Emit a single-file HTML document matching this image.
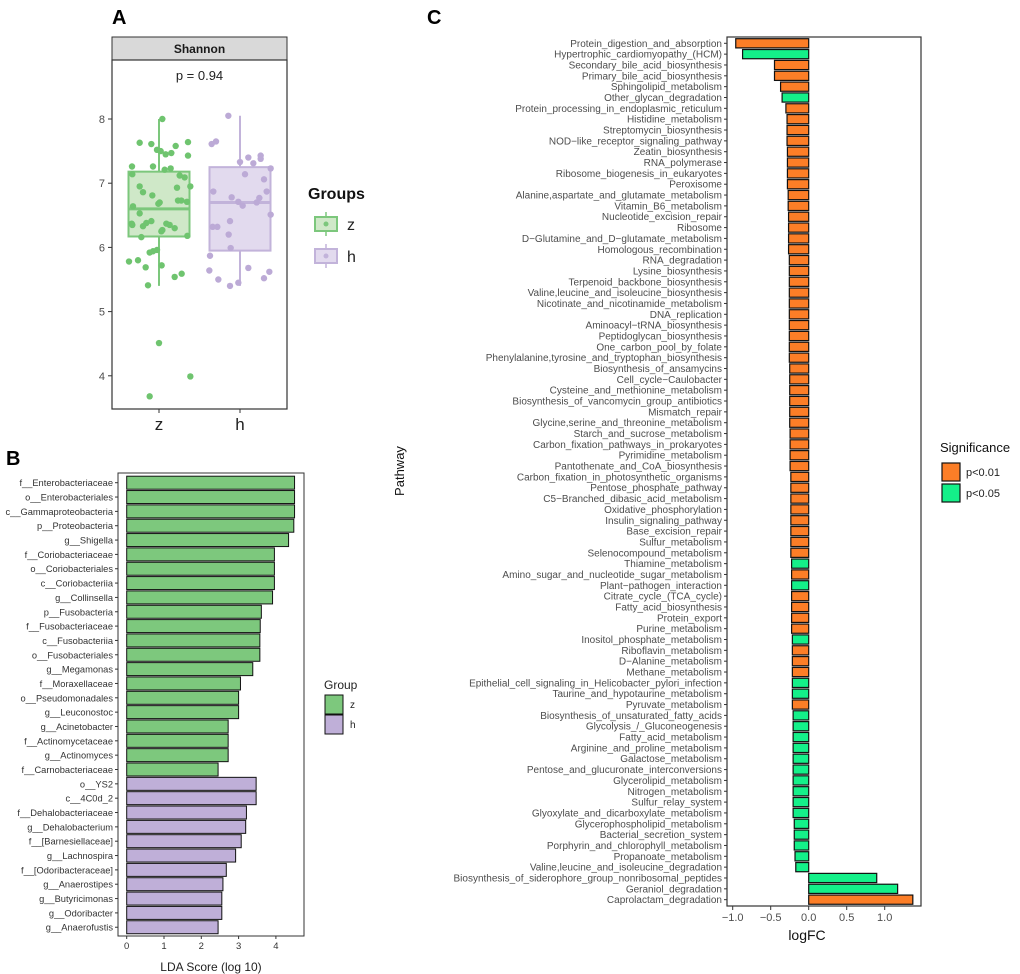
<!DOCTYPE html>
<html><head><meta charset="utf-8"><style>
html,body{margin:0;padding:0;background:#fff;}
svg{display:block;font-family:"Liberation Sans",Arial,sans-serif;}
</style></head><body>
<svg id="fig" width="1020" height="974" viewBox="0 0 1020 974" xmlns="http://www.w3.org/2000/svg">
<text x="112" y="24" font-size="20" font-weight="bold">A</text>
<text x="6" y="465" font-size="20" font-weight="bold">B</text>
<text x="427" y="24" font-size="20" font-weight="bold">C</text>
</svg>
<script>
// ---------- Panel A data ----------
const aGroups = ["z","h"];
const zValues = [8.0,7.63,7.61,7.64,7.52,7.50,7.45,7.47,7.58,7.43,7.26,7.26,7.21,7.23,7.12,7.14,7.09,6.95,6.86,6.95,6.81,6.93,6.70,6.73,6.64,6.68,6.73,6.71,6.53,6.37,6.38,6.41,6.37,6.35,6.33,6.25,6.30,6.35,6.16,6.18,6.27,5.94,5.92,5.96,5.78,5.80,5.69,5.72,5.54,5.59,5.41,4.51,3.99,3.68];
const zJitter = [10,-58,-23,87,-6,5,20,37,50,87,-81,-18,17,35,62,-80,77,-58,-48,94,-20,54,2,67,-78,-2,57,84,-58,-82,-38,-23,22,-80,-48,7,47,32,-53,85,10,-18,-28,-6,-90,-63,-40,8,47,68,-33,0,94,-28];
const hValues = [8.05,7.61,7.65,7.33,7.40,7.31,7.43,7.38,7.23,7.14,6.87,6.78,6.71,6.65,6.70,7.06,6.77,6.87,6.51,6.32,6.32,6.41,6.20,5.99,5.87,5.64,5.50,5.40,5.45,5.68,5.52,5.62];
const hJitter = [-35,-85,-72,0,25,40,62,62,92,15,-80,-25,-5,8,50,72,58,80,92,-82,-68,-30,-34,-28,-90,-92,-65,-30,-5,25,72,88];
const zBox = [5.40,6.17,6.60,7.18,8.00];
const hBox = [5.40,5.95,6.70,7.25,8.05];
const aTicks = [4,5,6,7,8];
// ---------- Panel B data ----------
const bTaxa = ["f__Enterobacteriaceae","o__Enterobacteriales","c__Gammaproteobacteria","p__Proteobacteria","g__Shigella","f__Coriobacteriaceae","o__Coriobacteriales","c__Coriobacteriia","g__Collinsella","p__Fusobacteria","f__Fusobacteriaceae","c__Fusobacteriia","o__Fusobacteriales","g__Megamonas","f__Moraxellaceae","o__Pseudomonadales","g__Leuconostoc","g__Acinetobacter","f__Actinomycetaceae","g__Actinomyces","f__Carnobacteriaceae","o__YS2","c__4C0d_2","f__Dehalobacteriaceae","g__Dehalobacterium","f__[Barnesiellaceae]","g__Lachnospira","f__[Odoribacteraceae]","g__Anaerostipes","g__Butyricimonas","g__Odoribacter","g__Anaerofustis"];
const bLDA = [4.50,4.50,4.50,4.48,4.34,3.96,3.96,3.96,3.91,3.61,3.58,3.57,3.57,3.38,3.05,3.00,3.00,2.72,2.72,2.72,2.45,3.47,3.47,3.21,3.19,3.07,2.92,2.67,2.58,2.55,2.55,2.45];
const bGroup = ["z","z","z","z","z","z","z","z","z","z","z","z","z","z","z","z","z","z","z","z","z","h","h","h","h","h","h","h","h","h","h","h"];
const bTicks = [0,1,2,3,4];
// ---------- Panel C data ----------
const cPath = ["Protein_digestion_and_absorption","Hypertrophic_cardiomyopathy_(HCM)","Secondary_bile_acid_biosynthesis","Primary_bile_acid_biosynthesis","Sphingolipid_metabolism","Other_glycan_degradation","Protein_processing_in_endoplasmic_reticulum","Histidine_metabolism","Streptomycin_biosynthesis","NOD−like_receptor_signaling_pathway","Zeatin_biosynthesis","RNA_polymerase","Ribosome_biogenesis_in_eukaryotes","Peroxisome","Alanine,aspartate_and_glutamate_metabolism","Vitamin_B6_metabolism","Nucleotide_excision_repair","Ribosome","D−Glutamine_and_D−glutamate_metabolism","Homologous_recombination","RNA_degradation","Lysine_biosynthesis","Terpenoid_backbone_biosynthesis","Valine,leucine_and_isoleucine_biosynthesis","Nicotinate_and_nicotinamide_metabolism","DNA_replication","Aminoacyl−tRNA_biosynthesis","Peptidoglycan_biosynthesis","One_carbon_pool_by_folate","Phenylalanine,tyrosine_and_tryptophan_biosynthesis","Biosynthesis_of_ansamycins","Cell_cycle−Caulobacter","Cysteine_and_methionine_metabolism","Biosynthesis_of_vancomycin_group_antibiotics","Mismatch_repair","Glycine,serine_and_threonine_metabolism","Starch_and_sucrose_metabolism","Carbon_fixation_pathways_in_prokaryotes","Pyrimidine_metabolism","Pantothenate_and_CoA_biosynthesis","Carbon_fixation_in_photosynthetic_organisms","Pentose_phosphate_pathway","C5−Branched_dibasic_acid_metabolism","Oxidative_phosphorylation","Insulin_signaling_pathway","Base_excision_repair","Sulfur_metabolism","Selenocompound_metabolism","Thiamine_metabolism","Amino_sugar_and_nucleotide_sugar_metabolism","Plant−pathogen_interaction","Citrate_cycle_(TCA_cycle)","Fatty_acid_biosynthesis","Protein_export","Purine_metabolism","Inositol_phosphate_metabolism","Riboflavin_metabolism","D−Alanine_metabolism","Methane_metabolism","Epithelial_cell_signaling_in_Helicobacter_pylori_infection","Taurine_and_hypotaurine_metabolism","Pyruvate_metabolism","Biosynthesis_of_unsaturated_fatty_acids","Glycolysis_/_Gluconeogenesis","Fatty_acid_metabolism","Arginine_and_proline_metabolism","Galactose_metabolism","Pentose_and_glucuronate_interconversions","Glycerolipid_metabolism","Nitrogen_metabolism","Sulfur_relay_system","Glyoxylate_and_dicarboxylate_metabolism","Glycerophospholipid_metabolism","Bacterial_secretion_system","Porphyrin_and_chlorophyll_metabolism","Propanoate_metabolism","Valine,leucine_and_isoleucine_degradation","Biosynthesis_of_siderophore_group_nonribosomal_peptides","Geraniol_degradation","Caprolactam_degradation"];
const cLogFC = [-0.96,-0.87,-0.45,-0.45,-0.37,-0.35,-0.30,-0.285,-0.285,-0.285,-0.28,-0.28,-0.28,-0.28,-0.27,-0.27,-0.265,-0.265,-0.265,-0.265,-0.255,-0.255,-0.255,-0.255,-0.255,-0.255,-0.255,-0.255,-0.255,-0.255,-0.25,-0.25,-0.25,-0.25,-0.25,-0.25,-0.245,-0.245,-0.245,-0.245,-0.235,-0.235,-0.235,-0.235,-0.235,-0.235,-0.235,-0.235,-0.225,-0.225,-0.225,-0.225,-0.225,-0.225,-0.225,-0.215,-0.215,-0.215,-0.215,-0.215,-0.215,-0.215,-0.205,-0.205,-0.205,-0.205,-0.205,-0.205,-0.205,-0.205,-0.205,-0.205,-0.19,-0.19,-0.19,-0.18,-0.17,0.895,1.17,1.37];
const cSig = ["a","b","a","a","a","b","a","a","a","a","a","a","a","a","a","a","a","a","a","a","a","a","a","a","a","a","a","a","a","a","a","a","a","a","a","a","a","a","a","a","a","a","a","a","a","a","a","a","b","a","b","a","a","a","a","b","a","a","a","b","b","a","b","b","b","b","b","b","b","b","b","b","b","b","b","b","b","b","b","a"];
const cTicks = [-1.0,-0.5,0.0,0.5,1.0];

const NS="http://www.w3.org/2000/svg";
const svg=document.getElementById('fig');
function mk(tag,attrs,parent){const e=document.createElementNS(NS,tag);for(const k in attrs)e.setAttribute(k,attrs[k]);(parent||svg).appendChild(e);return e;}
function txt(str,attrs,parent){const e=mk('text',attrs,parent);e.textContent=str;return e;}

// ===== Panel A =====
const aL=112,aR=287,aT=60,aB=409;
function ay(v){return 119+(8-v)*64.2;}
const aX={z:159,h:240};
let e;
e=mk('rect',{x:aL,y:37,width:aR-aL,height:23,fill:'#d9d9d9',stroke:'#333','stroke-width':1});


e=txt('Shannon',{x:(aL+aR)/2,y:53,'font-size':12,'font-weight':'bold','text-anchor':'middle',fill:'#1a1a1a'});


e=mk('rect',{x:aL,y:aT,width:aR-aL,height:aB-aT,fill:'#fff',stroke:'#333','stroke-width':1.2});


e=txt('p = 0.94',{x:(aL+aR)/2,y:80,'font-size':13,'text-anchor':'middle',fill:'#222'});


aTicks.forEach(t=>{
  e=mk('line',{x1:aL-4,x2:aL,y1:ay(t),y2:ay(t),stroke:'#333'});
  
  
  e=txt(String(t),{x:aL-7,y:ay(t)+4,'font-size':11,'text-anchor':'end',fill:'#4d4d4d'});
  
  
});
aGroups.forEach(g=>{
  e=mk('line',{x1:aX[g],x2:aX[g],y1:aB,y2:aB+4,stroke:'#333'});
  
  
  e=txt(g,{x:aX[g],y:aB+21,'font-size':17,'text-anchor':'middle',fill:'#222'});
  
  
});
function drawBox(box,cx,stroke,fill,name){
  const w=61;
  e=mk('line',{x1:cx,x2:cx,y1:ay(box[0]),y2:ay(box[4]),stroke:stroke,'stroke-width':2});
  
  
  e=mk('rect',{x:cx-w/2,y:ay(box[3]),width:w,height:ay(box[1])-ay(box[3]),fill:fill,stroke:stroke,'stroke-width':2});
  
  
  e=mk('line',{x1:cx-w/2,x2:cx+w/2,y1:ay(box[2]),y2:ay(box[2]),stroke:stroke,'stroke-width':3});
  
  
}
drawBox(zBox,aX.z,'#7cc77c','#cfe8c8','z');
drawBox(hBox,aX.h,'#c2b3da','#e2daee','h');
zValues.forEach((v,i)=>{
  e=mk('circle',{cx:aX.z+zJitter[i]/3,cy:ay(v),r:3.2,fill:'#6fc46f'});
  
  
});
hValues.forEach((v,i)=>{
  e=mk('circle',{cx:aX.h+hJitter[i]/3,cy:ay(v),r:3.2,fill:'#bcaad6'});
  
  
});
// legend A
e=txt('Groups',{x:308,y:199,'font-size':16,'font-weight':'bold',fill:'#111'});


[['z','#7cc77c','#cfe8c8',224],['h','#c2b3da','#e2daee',256]].forEach(([g,s,f,y])=>{
  e=mk('line',{x1:326,x2:326,y1:y-12,y2:y+12,stroke:s,'stroke-width':1.5});
  
  
  e=mk('rect',{x:315,y:y-7,width:22,height:14,fill:f,stroke:s,'stroke-width':2});
  
  
  e=mk('circle',{cx:326,cy:y,r:2.5,fill:s});
  
  
  e=txt(g,{x:347,y:y+6,'font-size':16,fill:'#222'});
  
  
});

// ===== Panel B =====
const bL=118,bR=304,bT=473,bBot=936;
function bx(v){return 126.7+v*37.3;}
function by(i){return 482.7+i*14.34;}
e=mk('rect',{x:bL,y:bT,width:bR-bL,height:bBot-bT,fill:'#fff',stroke:'#333','stroke-width':1});


bTaxa.forEach((t,i)=>{
  e=mk('rect',{x:bx(0),y:by(i)-6.5,width:bx(bLDA[i])-bx(0),height:13,fill:bGroup[i]==='z'?'#7dc87d':'#bfafd8',stroke:'#111','stroke-width':1});
  
  
  e=mk('line',{x1:bL-3,x2:bL,y1:by(i),y2:by(i),stroke:'#333'});
  
  
  e=txt(t,{x:bL-5,y:by(i)+3.5,'font-size':9.3,'text-anchor':'end',fill:'#333'});
  
  
});
bTicks.forEach(t=>{
  e=mk('line',{x1:bx(t),x2:bx(t),y1:bBot,y2:bBot+3,stroke:'#333'});
  
  
  e=txt(String(t),{x:bx(t),y:bBot+13,'font-size':9.5,'text-anchor':'middle',fill:'#333'});
  
  
});
e=txt('LDA Score (log 10)',{x:(bL+bR)/2,y:971,'font-size':12,'text-anchor':'middle',fill:'#222'});


e=txt('Group',{x:324,y:689,'font-size':12,fill:'#222'});


[['z','#7dc87d',695],['h','#bfafd8',715]].forEach(([g,c,y])=>{
  e=mk('rect',{x:325,y:y,width:18,height:19,fill:c,stroke:'#111','stroke-width':1});
  
  
  e=txt(g,{x:350,y:y+13,'font-size':10,fill:'#222'});
  
  
});

// ===== Panel C =====
const cL=727,cR=921,cT=37,cBot=906;
function cx(v){return 808.7+v*76;}
function cy(i){return 43.3+i*10.84;}
e=mk('rect',{x:cL,y:cT,width:cR-cL,height:cBot-cT,fill:'#fff',stroke:'#333','stroke-width':1.2});


cPath.forEach((p,i)=>{
  const v=cLogFC[i],x0=Math.min(cx(0),cx(v));
  e=mk('rect',{x:x0,y:cy(i)-4.6,width:Math.abs(cx(v)-cx(0)),height:9.2,fill:cSig[i]==='a'?'#fc7e27':'#14f089',stroke:'#111','stroke-width':1.2});
  
  
  e=mk('line',{x1:cL-3,x2:cL,y1:cy(i),y2:cy(i),stroke:'#333'});
  
  
  e=txt(p,{x:cL-5,y:cy(i)+3.5,'font-size':10,'text-anchor':'end',fill:'#4d4d4d'});
  
  
});
cTicks.forEach(t=>{
  e=mk('line',{x1:cx(t),x2:cx(t),y1:cBot,y2:cBot+4,stroke:'#333'});
  
  
  e=txt(t.toFixed(1).replace('-','−'),{x:cx(t),y:cBot+15,'font-size':11,'text-anchor':'middle',fill:'#4d4d4d'});
  
  
});
e=txt('logFC',{x:807,y:940,'font-size':14,'text-anchor':'middle',fill:'#111'});


e=txt('Pathway',{x:0,y:0,'font-size':13,'text-anchor':'middle',fill:'#111',transform:'translate(404,471) rotate(-90)'});


e=txt('Significance',{x:940,y:452,'font-size':13,fill:'#111'});


[['p<0.01','#fc7e27',463],['p<0.05','#14f089',484]].forEach(([l,c,y])=>{
  e=mk('rect',{x:942,y:y,width:18,height:18,fill:c,stroke:'#111','stroke-width':1.2});
  
  
  e=txt(l,{x:966,y:y+13,'font-size':11,fill:'#222'});
  
  
});
</script>
</body></html>
